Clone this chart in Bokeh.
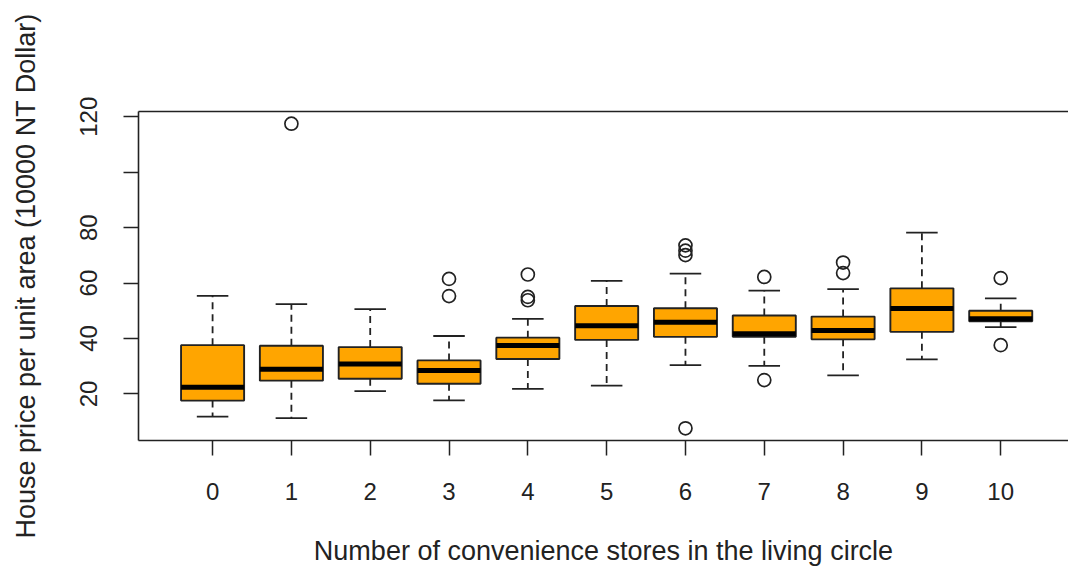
import numpy as np
from bokeh.plotting import figure
from bokeh.models import Range1d, LinearAxis, FixedTicker
from bokeh.embed import file_html
from bokeh.resources import INLINE

# ---- data ----
categories = ["0", "1", "2", "3", "4", "5", "6", "7", "8", "9", "10"]
whisker_low = [11.8, 11.3, 21.0, 17.7, 21.8, 23.0, 30.4, 30.1, 26.7, 32.5, 44.1]
q1 = [17.6, 24.8, 25.5, 23.7, 32.6, 39.5, 40.6, 40.6, 39.7, 42.4, 46.2]
median = [22.4, 28.9, 30.8, 28.5, 37.5, 44.6, 45.9, 41.7, 42.9, 50.8, 47.1]
q3 = [37.6, 37.4, 36.9, 32.1, 40.3, 51.7, 50.9, 48.3, 47.9, 58.1, 50.0]
whisker_high = [55.4, 52.4, 50.6, 40.9, 47.1, 60.8, 63.4, 57.3, 57.8, 78.2, 54.5]
outlier_cat = ["1", "3", "3", "4", "4", "4", "6", "6", "6", "6", "7", "7", "8", "8", "10", "10"]
outlier_val = [117.5, 61.5, 55.3, 63.1, 55.0, 53.8, 73.6, 71.7, 70.1, 7.6, 62.2, 25.0, 67.4, 63.6, 61.8, 37.6]
y_ticks = [20, 40, 60, 80, 100, 120]

x_title = "Number of convenience stores in the living circle"
y_title = "House price per unit area (10000 NT Dollar)"

# ---- positions from categories ----
pos = np.arange(len(categories), dtype=float)
cat_index = {c: i for i, c in enumerate(categories)}
out_x = [cat_index[c] for c in outlier_cat]
box_w = 0.8
cap_w = 0.4

FONT = "Liberation Sans"
INK = "#222222"

p = figure(width=1068, height=568,
           x_range=Range1d(-0.94, 10.86), y_range=Range1d(3.2, 121.9),
           output_backend="svg", toolbar_location=None,
           min_border_left=138, min_border_right=0,
           min_border_top=111, min_border_bottom=128,
           background_fill_color="white", border_fill_color="white")
p.outline_line_color = None
p.xgrid.visible = False
p.ygrid.visible = False

# whiskers (dashed)
p.segment(x0=pos, y0=q3, x1=pos, y1=whisker_high, line_color=INK, line_width=1.8, line_dash="7 5")
p.segment(x0=pos, y0=q1, x1=pos, y1=whisker_low, line_color=INK, line_width=1.8, line_dash="7 5")
# caps
p.segment(x0=pos - cap_w / 2, y0=whisker_high, x1=pos + cap_w / 2, y1=whisker_high, line_color=INK, line_width=1.8)
p.segment(x0=pos - cap_w / 2, y0=whisker_low, x1=pos + cap_w / 2, y1=whisker_low, line_color=INK, line_width=1.8)
# boxes
p.vbar(x=pos, width=box_w, bottom=q1, top=q3, fill_color="#FFA500", line_color=INK, line_width=1.9)
# medians
p.segment(x0=pos - box_w / 2, y0=median, x1=pos + box_w / 2, y1=median, line_color="black", line_width=5)
# outliers
p.scatter(x=out_x, y=outlier_val, marker="circle", size=13, fill_color=None,
          line_color=INK, line_width=1.7)

# axes
xa = p.xaxis[0]
xa.ticker = FixedTicker(ticks=list(pos))
xa.major_label_overrides = {i: c for i, c in enumerate(categories)}
ya = p.yaxis[0]
ya.ticker = FixedTicker(ticks=y_ticks)
ya.major_label_overrides = {100: ""}
ya.major_label_orientation = "parallel"

for ax in (xa, ya):
    ax.axis_line_color = INK
    ax.axis_line_width = 1.6
    ax.major_tick_line_color = INK
    ax.major_tick_line_width = 1.5
    ax.major_tick_in = 0
    ax.major_tick_out = 15
    ax.minor_tick_line_color = None
    ax.major_label_text_font = FONT
    ax.major_label_text_font_size = "24px"
    ax.major_label_text_color = INK
    ax.axis_label_text_font = FONT
    ax.axis_label_text_font_size = "27px"
    ax.axis_label_text_font_style = "normal"
    ax.axis_label_text_color = INK

xa.axis_label = x_title
xa.major_label_standoff = 27
xa.axis_label_standoff = 33
ya.axis_label = y_title
ya.major_label_standoff = 26
ya.axis_label_standoff = 37

top = LinearAxis(ticker=FixedTicker(ticks=[]), axis_line_color=INK, axis_line_width=1.6,
                 major_tick_out=0, major_tick_in=0, minor_tick_line_color=None,
                 major_label_text_font_size="0px")
p.add_layout(top, "above")

open("out.html", "w").write(file_html(p, INLINE))
